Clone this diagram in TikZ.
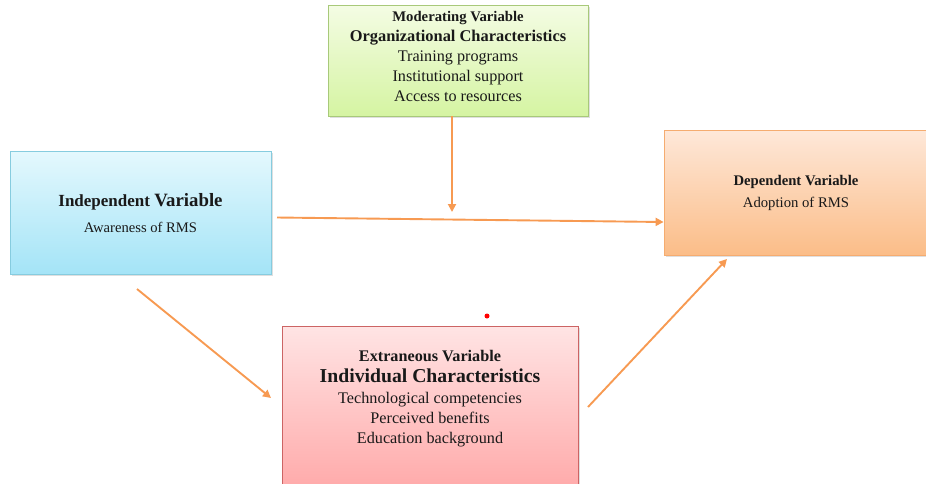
\documentclass[tikz,border=0pt]{standalone}
\usepackage{fontspec}
\setmainfont{Liberation Serif}
\usepackage{xcolor}
\usetikzlibrary{arrows.meta, positioning, shadows}
\definecolor{modtop}{HTML}{F4FCE4}
\definecolor{modbot}{HTML}{D5F4A2}
\definecolor{modline}{HTML}{A8C97A}
\definecolor{indtop}{HTML}{E4F8FD}
\definecolor{indbot}{HTML}{A4E4F7}
\definecolor{indline}{HTML}{86CCDF}
\definecolor{deptop}{HTML}{FEE8D9}
\definecolor{depbot}{HTML}{FBBD88}
\definecolor{depline}{HTML}{F5AC70}
\definecolor{exttop}{HTML}{FFE4E4}
\definecolor{extbot}{HTML}{FFA6A6}
\definecolor{extline}{HTML}{CC6464}
\definecolor{arrowline}{HTML}{F79A52}
\tikzset{
  varbox/.style={draw, line width=0.8pt, inner sep=0pt,
    drop shadow={shadow xshift=1.5pt, shadow yshift=-1.5pt, opacity=0.25}},
  boxtext/.style={align=center, inner sep=0pt, text=black!90},
  link/.style={-{Triangle[length=8pt, width=8pt]}, line width=1.9pt, arrowline}
}

\begin{document}
\begin{tikzpicture}[x=1pt, y=-1pt]
    \clip (0,0) rectangle (926,483);
    % Moderating variable
    \node[varbox, draw=modline, top color=modtop, bottom color=modbot,
          minimum width=260pt, minimum height=111pt] (moderating) at (458,60.5) {};
    \node[boxtext, font=\fontsize{16.2}{20}\selectfont] (modtext) at (458,56.5)
        {{\fontsize{14.7}{20}\selectfont\bfseries Moderating Variable}\\
         {\fontsize{16.4}{20}\selectfont\bfseries Organizational Characteristics}\\
         Training programs\\ Institutional support\\ Access to resources};
    % Independent variable
    \node[varbox, draw=indline, top color=indtop, bottom color=indbot,
          minimum width=261pt, minimum height=123pt] (independent) at (140.5,212.5) {};
    \node[boxtext, font=\fontsize{14.6}{20}\selectfont] (indtext) at (140.5,213)
        {{\bfseries\fontsize{17}{20}\selectfont Independent \fontsize{18.8}{20}\selectfont Variable}\\[6pt]
         Awareness of RMS};
    % Dependent variable
    \node[varbox, draw=depline, top color=deptop, bottom color=depbot,
          minimum width=264pt, minimum height=125pt] (dependent) at (796,192.5) {};
    \node[boxtext, font=\fontsize{14.7}{22}\selectfont] (deptext) at (796,192.5)
        {{\bfseries Dependent Variable}\\ Adoption of RMS};
    % Extraneous variable
    \node[varbox, draw=extline, top color=exttop, bottom color=extbot,
          minimum width=296pt, minimum height=174pt] (extraneous) at (430,413) {};
    \node[boxtext, font=\fontsize{16.2}{20}\selectfont] (exttext) at (430,398.5)
        {{\bfseries Extraneous Variable}\\[1pt]
         {\fontsize{19.7}{20}\selectfont\bfseries Individual Characteristics}\\[1pt]
         Technological competencies\\ Perceived benefits\\ Education background};
    \node[circle, fill=red, inner sep=0pt, minimum size=5pt] (dot) at (487,316) {};
    % Connectors
    \coordinate (modend) at (452,212);
    \coordinate (indstart) at (277,217.5);
    \coordinate (lowstart) at (137,289);
    \coordinate (lowend) at (271,398);
    \coordinate (upstart) at (588,407);
    \coordinate (upend) at (727,259);
    \draw[link] ([xshift=-6pt]moderating.south) -- (modend);
    \draw[link] (indstart) -- ([yshift=-29.5pt]dependent.west);
    \draw[link] (lowstart) -- (lowend);
    \draw[link] (upstart) -- (upend);
\end{tikzpicture}
\end{document}
